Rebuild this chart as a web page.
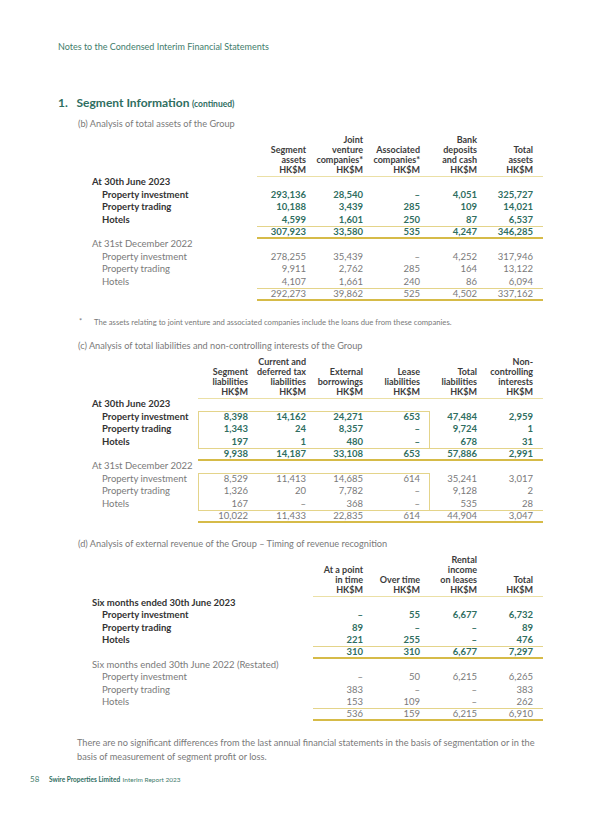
<!DOCTYPE html>
<html><head><meta charset="utf-8">
<script src="https://cdn.jsdelivr.net/npm/chart.js@4.4.1/dist/chart.umd.min.js"></script>
<style>
body{margin:0;background:#fff;}
#page{position:relative;width:600px;height:814px;overflow:hidden;font-family:Lato,"Open Sans",sans-serif;}
.t{position:absolute;white-space:nowrap;line-height:12px;height:12px;}
.ln{position:absolute;}
</style></head><body><div id="page"></div>
<script>
// ---------- data ----------
const rowLabels = ["Property investment", "Property trading", "Hotels"];

// (b) total assets
const bHeaders = [["", "Segment", "assets", "HK$M"], ["Joint", "venture", "companies*", "HK$M"], ["", "Associated", "companies*", "HK$M"], ["Bank", "deposits", "and cash", "HK$M"], ["", "Total", "assets", "HK$M"]];
const bPeriods = ["At 30th June 2023", "At 31st December 2022"];
const bRows2023 = [[293136, 28540, null, 4051, 325727], [10188, 3439, 285, 109, 14021], [4599, 1601, 250, 87, 6537]];
const bTotal2023 = [307923, 33580, 535, 4247, 346285];
const bRows2022 = [[278255, 35439, null, 4252, 317946], [9911, 2762, 285, 164, 13122], [4107, 1661, 240, 86, 6094]];
const bTotal2022 = [292273, 39862, 525, 4502, 337162];

// (c) total liabilities and non-controlling interests
const cHeaders = [["", "Segment", "liabilities", "HK$M"], ["Current and", "deferred tax", "liabilities", "HK$M"], ["", "External", "borrowings", "HK$M"], ["", "Lease", "liabilities", "HK$M"], ["", "Total", "liabilities", "HK$M"], ["Non-", "controlling", "interests", "HK$M"]];
const cPeriods = ["At 30th June 2023", "At 31st December 2022"];
const cRows2023 = [[8398, 14162, 24271, 653, 47484, 2959], [1343, 24, 8357, null, 9724, 1], [197, 1, 480, null, 678, 31]];
const cTotal2023 = [9938, 14187, 33108, 653, 57886, 2991];
const cRows2022 = [[8529, 11413, 14685, 614, 35241, 3017], [1326, 20, 7782, null, 9128, 2], [167, null, 368, null, 535, 28]];
const cTotal2022 = [10022, 11433, 22835, 614, 44904, 3047];

// (d) external revenue – timing of revenue recognition
const dHeaders = [["", "At a point", "in time", "HK$M"], ["", "", "Over time", "HK$M"], ["Rental", "income", "on leases", "HK$M"], ["", "", "Total", "HK$M"]];
const dPeriods = ["Six months ended 30th June 2023", "Six months ended 30th June 2022 (Restated)"];
const dRows2023 = [[null, 55, 6677, 6732], [89, null, null, 89], [221, 255, null, 476]];
const dTotal2023 = [310, 310, 6677, 7297];
const dRows2022 = [[null, 50, 6215, 6265], [383, null, null, 383], [153, 109, null, 262]];
const dTotal2022 = [536, 159, 6215, 6910];

// ---------- rendering ----------
const page = document.getElementById('page');
const TEAL = '#2f6e5f', DARK = '#333', GREY = '#7a7a7a';
const THIN = '#e4d48a', THICK = '#d6bb48', HEADLINE = '#ebe0a6';

function text(str, x, yc, o = {}) {
  const d = document.createElement('div');
  d.className = 't';
  d.textContent = str;
  d.style.top = (yc - 6) + 'px';
  d.style.fontSize = (o.size || 9.5) + 'px';
  d.style.fontWeight = o.bold ? '700' : '400';
  d.style.color = o.color || GREY;
  if (o.right) { d.style.right = (600 - x) + 'px'; d.style.textAlign = 'right'; }
  else d.style.left = x + 'px';
  if (o.html) d.innerHTML = o.html;
  page.appendChild(d);
  return d;
}
function hline(x1, x2, y, w, c) {
  const d = document.createElement('div');
  d.className = 'ln';
  d.style.left = x1 + 'px'; d.style.width = (x2 - x1) + 'px';
  d.style.top = (y - w / 2) + 'px'; d.style.height = w + 'px';
  d.style.background = c;
  page.appendChild(d);
}
function box(x1, x2, y1, y2, c) {
  const d = document.createElement('div');
  d.className = 'ln';
  d.style.left = x1 + 'px'; d.style.top = y1 + 'px';
  d.style.width = (x2 - x1) + 'px'; d.style.height = (y2 - y1) + 'px';
  d.style.border = '1px solid ' + c; d.style.boxSizing = 'border-box';
  page.appendChild(d);
}
const fmt = v => v === null ? '–' : v.toLocaleString('en-US');

function table(cfg) {
  cfg.headers.forEach((lines, ci) => {
    lines.forEach((s, li) => {
      if (s) text(s, cfg.cols[ci], cfg.headY + li * 10, { right: true, bold: true, color: '#3c3c3c', size: 9 });
    });
  });
  hline(cfg.lineX1, cfg.lineX2, cfg.headY + 36, 1, HEADLINE);
  const groups = [[cfg.rows[0], cfg.totals[0], true], [cfg.rows[1], cfg.totals[1], false]];
  groups.forEach(([rows, tot, bold], gi) => {
    const y0 = cfg.groupY[gi];
    const col = bold ? TEAL : GREY;
    text(cfg.periods[gi], 92, y0, { bold, color: bold ? DARK : GREY });
    rows.forEach((r, ri) => {
      const y = y0 + cfg.rowH * (ri + 1);
      text(rowLabels[ri], 102, y, { bold, color: bold ? DARK : GREY });
      r.forEach((v, ci) => text(fmt(v), cfg.cols[ci], y, { right: true, bold, color: col }));
    });
    const ty = y0 + cfg.rowH * 4;
    if (cfg.box) box(cfg.box[0], cfg.box[1], y0 + cfg.rowH * 0.5 + 1, ty - cfg.rowH / 2 + 1, THIN);
    hline(cfg.lineX1, cfg.lineX2, ty - cfg.rowH / 2 + 0.5, 1, THIN);
    tot.forEach((v, ci) => text(fmt(v), cfg.cols[ci], ty, { right: true, bold, color: col }));
    hline(cfg.lineX1, cfg.lineX2, ty + 6, 2, THICK);
  });
}

// page header & titles
text('Notes to the Condensed Interim Financial Statements', 58, 47, { size: 9, color: '#3f7d6c' });
text('', 58, 103, { html: '<span style="font-size:12px;font-weight:700;color:#2f6e5f">1.&nbsp;&nbsp;&nbsp;Segment Information</span> <span style="font-size:8.5px;font-weight:700;color:#2f6e5f">(continued)</span>' });
text('(b) Analysis of total assets of the Group', 78, 124, { size: 9.2 });

table({ headers: bHeaders, cols: [306, 363, 420, 477, 533], headY: 140, lineX1: 257, lineX2: 543,
  periods: bPeriods, rows: [bRows2023, bRows2022], totals: [bTotal2023, bTotal2022], groupY: [182, 244], rowH: 12.5 });

text('*', 79, 322, { size: 7.5 });
text('The assets relating to joint venture and associated companies include the loans due from these companies.', 94, 322, { size: 7.7 });

text('(c) Analysis of total liabilities and non-controlling interests of the Group', 78, 346, { size: 9.2 });
table({ headers: cHeaders, cols: [248, 306, 363, 420, 477, 533], headY: 362, lineX1: 198, lineX2: 543,
  periods: cPeriods, rows: [cRows2023, cRows2022], totals: [cTotal2023, cTotal2022], groupY: [404, 466], rowH: 12.5, box: [198, 430] });

text('(d) Analysis of external revenue of the Group – Timing of revenue recognition', 78, 544, { size: 9.2 });
table({ headers: dHeaders, cols: [363, 420, 477, 533], headY: 560, lineX1: 313, lineX2: 543,
  periods: dPeriods, rows: [dRows2023, dRows2022], totals: [dTotal2023, dTotal2022], groupY: [603, 665], rowH: 12.3 });

text('There are no significant differences from the last annual financial statements in the basis of segmentation or in the', 77, 743, { size: 9.2 });
text('basis of measurement of segment profit or loss.', 77, 757, { size: 9.2 });

text('58', 30, 779, { size: 8, color: '#3f7d6c' });
text('', 49, 779, { html: '<span style="font-size:6.5px;font-weight:700;color:#2f6e5f">Swire Properties Limited</span> <span style="font-size:6.5px;color:#3f7d6c">Interim Report 2023</span>' });
</script></body></html>
